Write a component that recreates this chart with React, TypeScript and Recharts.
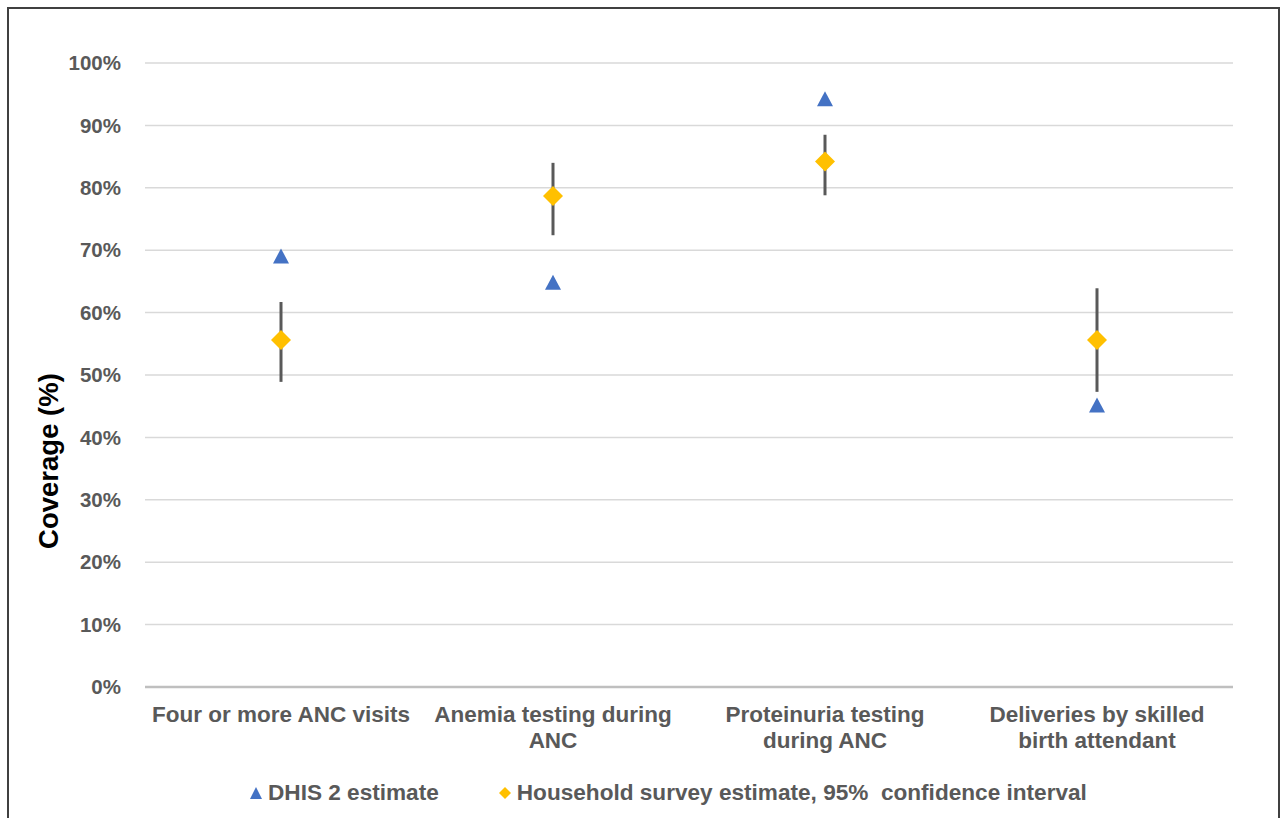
import React from "react";
import {
  ComposedChart,
  Line,
  XAxis,
  YAxis,
  CartesianGrid,
  ErrorBar,
} from "recharts";

const categories = [
  "Four or more ANC visits",
  "Anemia testing during ANC",
  "Proteinuria testing during ANC",
  "Deliveries by skilled birth attendant",
];
const categoryLines = [
  ["Four or more ANC visits"],
  ["Anemia testing during", "ANC"],
  ["Proteinuria testing", "during ANC"],
  ["Deliveries by skilled", "birth attendant"],
];
const dhis2 = [69.0, 64.8, 94.2, 45.1];
const survey = [55.6, 78.7, 84.2, 55.6];
const ciLow = [48.9, 72.4, 78.8, 47.3];
const ciHigh = [61.7, 84.0, 88.5, 63.9];
const yTicks = [0, 10, 20, 30, 40, 50, 60, 70, 80, 90, 100];
const legendLabels = ["DHIS 2 estimate", "Household survey estimate, 95%\u00a0 confidence interval"];

const BLUE = "#4472C4";
const GOLD = "#FFC000";
const FONT = "'Liberation Sans', Arial, sans-serif";

const data = categories.map((c, i) => ({
  name: c,
  dhis2: dhis2[i],
  survey: survey[i],
  err: [survey[i] - ciLow[i], ciHigh[i] - survey[i]],
}));

const Triangle = (props: any) => {
  const { cx, cy } = props;
  if (cx == null || cy == null) return null;
  return (
    <polygon
      points={`${cx},${cy - 8} ${cx - 8},${cy + 7} ${cx + 8},${cy + 7}`}
      fill={BLUE}
    />
  );
};

const Diamond = (props: any) => {
  const { cx, cy } = props;
  if (cx == null || cy == null) return null;
  return (
    <polygon
      points={`${cx},${cy - 10} ${cx + 10},${cy} ${cx},${cy + 10} ${cx - 10},${cy}`}
      fill={GOLD}
    />
  );
};

const XTick = (props: any) => {
  const { x, y, payload } = props;
  const idx = categories.indexOf(payload.value);
  const lines = categoryLines[idx] || [payload.value];
  return (
    <text
      x={x}
      y={y + 35}
      textAnchor="middle"
      fill="#595959"
      fontFamily={FONT}
      fontWeight="bold"
      fontSize={22.5}
    >
      {lines.map((l, i) => (
        <tspan key={i} x={x} dy={i === 0 ? 0 : 26}>
          {l}
        </tspan>
      ))}
    </text>
  );
};

const YLabel = () => (
  <text
    x={48}
    y={461}
    transform="rotate(-90, 48, 461)"
    textAnchor="middle"
    dominantBaseline="central"
    fill="#000"
    fontFamily={FONT}
    fontWeight="bold"
    fontSize={27.5}
  >
    Coverage (%)
  </text>
);

export default function App() {
  return (
    <div
      style={{
        position: "fixed",
        left: 0,
        top: 0,
        width: 1286,
        height: 818,
        overflow: "hidden",
        background: "#fff",
        fontFamily: FONT,
      }}
    >
      <div style={{ position: "absolute", left: 0, top: 0 }}>
        <ComposedChart
          width={1286}
          height={818}
          data={data}
          margin={{ top: 63, right: 53, bottom: 71, left: 0 }}
        >
          <CartesianGrid vertical={false} stroke="#d9d9d9" strokeWidth={1.5} />
          <XAxis
            dataKey="name"
            type="category"
            padding={{ left: 136, right: 136 }}
            height={60}
            tickLine={false}
            tickSize={0}
            tickMargin={0}
            axisLine={{ stroke: "#bfbfbf", strokeWidth: 2.5 }}
            tick={<XTick />}
            interval={0}
          />
          <YAxis
            type="number"
            domain={[0, 100]}
            ticks={yTicks}
            width={145}
            axisLine={false}
            tickLine={false}
            tickSize={0}
            tickMargin={24}
            tickFormatter={(v: number) => `${v}%`}
            tick={{ fill: "#595959", fontSize: 20.5, fontWeight: "bold", fontFamily: FONT }}
            label={{ content: () => <YLabel /> }}
          />
          <Line
            dataKey="survey"
            stroke="none"
            dot={false}
            activeDot={false}
            legendType="none"
            isAnimationActive={false}
          >
            <ErrorBar dataKey="err" width={0} stroke="#595959" strokeWidth={3} direction="y" />
          </Line>
          <Line
            dataKey="survey"
            stroke="none"
            dot={<Diamond />}
            activeDot={false}
            isAnimationActive={false}
          />
          <Line
            dataKey="dhis2"
            stroke="none"
            dot={<Triangle />}
            activeDot={false}
            isAnimationActive={false}
          />
        </ComposedChart>
      </div>
      <div
        style={{
          position: "absolute",
          top: 779,
          left: 248,
          display: "flex",
          alignItems: "center",
          color: "#595959",
          fontWeight: "bold",
          fontSize: 22.6,
          lineHeight: "28px",
          whiteSpace: "pre",
        }}
      >
        <svg width={16} height={14} style={{ marginRight: 4 }}>
          <polygon points="8,1 2,13 14,13" fill={BLUE} />
        </svg>
        <span>{legendLabels[0]}</span>
        <svg width={14} height={14} style={{ marginLeft: 59, marginRight: 5 }}>
          <polygon points="7,1 13,7 7,13 1,7" fill={GOLD} />
        </svg>
        <span>{legendLabels[1]}</span>
      </div>
      <div
        style={{
          position: "absolute",
          left: 7,
          top: 7,
          width: 1273,
          height: 840,
          borderTop: "2px solid #404040",
          borderLeft: "2px solid #404040",
          borderRight: "2px solid #404040",
          boxSizing: "border-box",
          zIndex: 5,
          pointerEvents: "none",
        }}
      />
    </div>
  );
}
